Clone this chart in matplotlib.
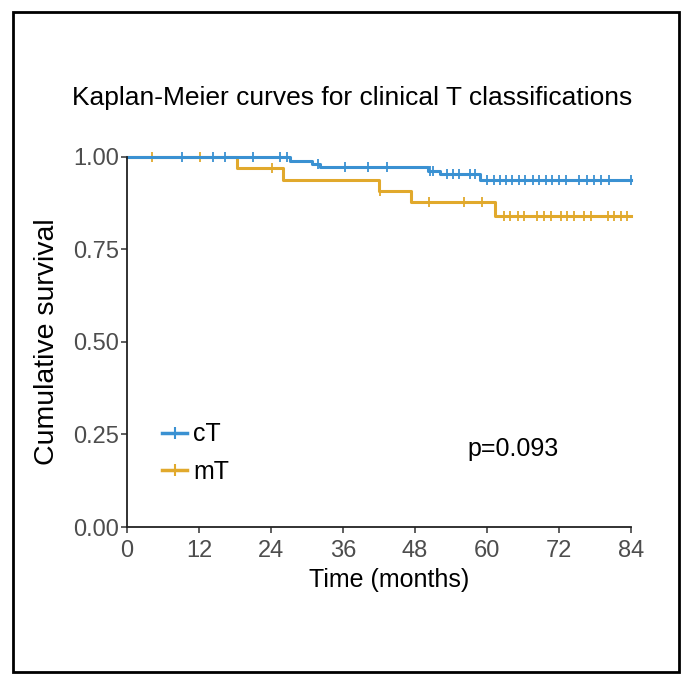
import matplotlib.pyplot as plt
from matplotlib.lines import Line2D
from matplotlib.patches import Rectangle
import numpy as np

plt.rcParams['font.family'] = ['Liberation Sans', 'DejaVu Sans']

# step curves: event times (months) and survival after each event
ct_times = [0, 27.2, 30.8, 32.2, 50.2, 52.2, 58.9]
ct_surv = [1.0, 0.99, 0.98, 0.972, 0.963, 0.955, 0.938]
mt_times = [0, 18.3, 26.0, 42.0, 47.3, 61.4]
mt_surv = [1.0, 0.97, 0.938, 0.909, 0.879, 0.841]

# censored observations
ct_cens = [9.1, 14.3, 16.3, 21.0, 25.5, 26.7, 31.9, 36.3, 40.2, 43.3, 50.5, 51.0,
           53.3, 54.3, 55.3, 57.2, 58.0, 60.0, 61.2, 62.1, 63.1, 64.2, 65.3, 66.4,
           67.6, 68.7, 69.8, 70.9, 72.0, 73.1, 75.4, 76.7, 77.8, 79.0, 80.4, 84.0]
mt_cens = [4.1, 12.2, 24.1, 42.2, 50.3, 56.1, 59.2, 62.8, 63.9, 65.1, 66.2, 68.4,
           69.5, 70.6, 72.3, 73.4, 74.5, 76.2, 77.3, 80.1, 81.2, 82.3, 83.4]

x_ticks = [0, 12, 24, 36, 48, 60, 72, 84]
y_ticks = [0.0, 0.25, 0.5, 0.75, 1.0]

blue = '#3A91D2'
orange = '#E1A92C'


def surv_at(times, surv, t):
    idx = np.searchsorted(times, t, side='right') - 1
    return np.array(surv)[idx]


fig = plt.figure(figsize=(6.81, 6.74), dpi=100)
ax = fig.add_axes([0.1865, 0.2181, 0.740, 0.549])

for times, surv, cens, col in [(mt_times, mt_surv, mt_cens, orange),
                               (ct_times, ct_surv, ct_cens, blue)]:
    t = list(times) + [84]
    s = list(surv) + [surv[-1]]
    ax.step(t, s, where='post', color=col, lw=2.2, clip_on=False)
    ax.plot(cens, surv_at(times, surv, cens), linestyle='none', marker='|',
            markersize=7, markeredgewidth=1.3, color=col, clip_on=False)

ax.set_xlim(0, 84)
ax.set_ylim(0, 1)
ax.set_xticks(x_ticks)
ax.set_xticklabels([str(v) for v in x_ticks])
ax.set_yticks(y_ticks)
ax.set_yticklabels([f'{v:.2f}' for v in y_ticks])
for side in ['top', 'right']:
    ax.spines[side].set_visible(False)
for side in ['left', 'bottom']:
    ax.spines[side].set_linewidth(1.3)
    ax.spines[side].set_color('#222222')
ax.tick_params(labelsize=17, labelcolor='#4d4d4d', length=4, width=1.1,
               color='#333333', pad=2)
ax.tick_params(axis='x', pad=5)

ax.set_xlabel('Time (months)', fontsize=18)
ax.xaxis.set_label_coords(0.52, -0.11)
ax.set_ylabel('Cumulative survival', fontsize=20.5, labelpad=9)

handles = [Line2D([], [], color=blue, lw=2.5, marker='|', markersize=8, markeredgewidth=1.5),
           Line2D([], [], color=orange, lw=2.5, marker='|', markersize=8, markeredgewidth=1.5)]
ax.legend(handles, ['cT', 'mT'], loc='lower left', bbox_to_anchor=(0.025, 0.055),
          frameon=False, fontsize=18, handlelength=1.0, handletextpad=0.25,
          labelspacing=0.55)

ax.text(56.7, 0.21, 'p=0.093', fontsize=18, va='center', ha='left')

fig.text(0.517, 0.854, 'Kaplan-Meier curves for clinical T classifications',
         fontsize=19, ha='center', va='center')

fig.patches.append(Rectangle((13 / 681, 2 / 674), 666 / 681, 660 / 674,
                             transform=fig.transFigure, fill=False,
                             edgecolor='black', lw=2))

fig.savefig('out.png', dpi=100)
